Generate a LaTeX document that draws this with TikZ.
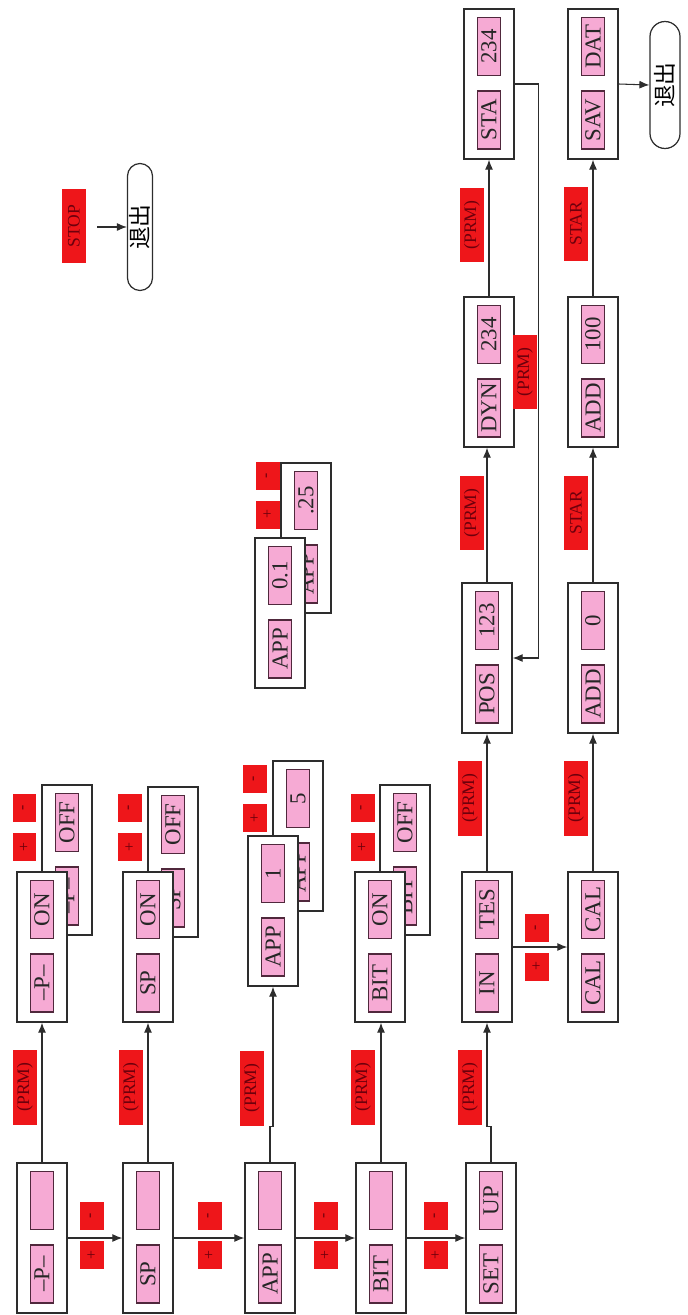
\documentclass[tikz,border=0pt]{standalone}
\usepackage{fontspec}
\setmainfont{Liberation Serif}
\newfontfamily\cjkfont{Noto Sans CJK SC}
\usepackage{graphicx}
\usepackage{tikz}
\usetikzlibrary{arrows.meta}
\definecolor{key_red}{RGB}{238,22,26}
\definecolor{key_text}{RGB}{110,0,12}
\definecolor{lcd_pink}{RGB}{246,170,212}
\definecolor{lcd_edge}{RGB}{80,40,60}
\definecolor{wire}{RGB}{45,45,45}

\begin{document}
\begin{tikzpicture}[x=0.02cm, y=-0.02cm,
    panel/.style={draw=wire, line width=0.8pt, fill=white, minimum width=1cm, minimum height=3cm, inner sep=0},
    lcd/.style={draw=lcd_edge, line width=0.6pt, fill=lcd_pink, rotate=90, minimum width=1.16cm, minimum height=0.47cm, inner sep=0, text=black!85, font=\fontsize{13}{13}\selectfont},
    keylabel/.style={fill=key_red, rotate=90, minimum width=1.5cm, minimum height=0.48cm, inner sep=0, text=key_text, font=\fontsize{10}{10}\selectfont},
    pmkey/.style={fill=key_red, rotate=90, minimum width=0.56cm, minimum height=0.48cm, inner sep=0, text=key_text, font=\fontsize{9}{9}\selectfont},
    exitpill/.style={draw=wire, line width=0.7pt, fill=white, minimum height=2.54cm, inner sep=0, font=\cjkfont\fontsize{13}{13}\selectfont},
    arr/.style={draw=wire, line width=0.6pt, -{Latex[length=2mm,width=1.6mm]}}
    ]
    \useasboundingbox (0,0) rectangle (688,1315);

    % panels seen behind
    \node[panel] (bA) at (67,860) {};
    \node[panel] (bB) at (173,862) {};
    \node[panel] (bC) at (298,836) {};
    \node[panel] (bD) at (405,860) {};
    \node[panel] (bM) at (306,538) {};
    \foreach \n/\lo/\hi in {bA/--P--/OFF, bB/SP/OFF, bC/APP/5, bD/BIT/OFF, bM/APP/.25} {
        \node[lcd] at ([yshift=-0.72cm]\n.center) {\lo};
        \node[lcd] at ([yshift=0.75cm]\n.center) {\hi};
    }

    % + and - keys
    \foreach \kx/\ky [count=\i] in {24.5/808, 130/808, 362.5/808, 255/779, 268/475.5, 537/927.5,
                                    92/1216, 209.5/1216, 325.5/1216, 436/1216} {
        \node[pmkey] (minus\i) at (\kx,\ky) {-};
        \node[pmkey] (plus\i) at (\kx,\ky+39) {+};
    }

    % front panels
    \node[panel] (pA) at (42,1238) {};
    \node[panel] (pB) at (148,1238) {};
    \node[panel] (pC) at (270,1238) {};
    \node[panel] (pD) at (381,1238) {};
    \node[panel] (pE) at (491,1238) {};
    \node[panel] (uA) at (42,947) {};
    \node[panel] (uB) at (148,947) {};
    \node[panel] (uC) at (273,911) {};
    \node[panel] (uD) at (380,947) {};
    \node[panel] (uM) at (280,613) {};
    \node[panel] (inE) at (487,947) {};
    \node[panel] (posE) at (487,658) {};
    \node[panel] (dynE) at (489,372) {};
    \node[panel] (staE) at (489,84) {};
    \node[panel] (calF) at (593,947) {};
    \node[panel] (addF) at (593,658) {};
    \node[panel] (hunF) at (593,372) {};
    \node[panel] (savF) at (593,84) {};
    \foreach \n/\lo/\hi in {pA/--P--/, pB/SP/, pC/APP/, pD/BIT/, pE/SET/UP,
                            uA/--P--/ON, uB/SP/ON, uC/APP/1, uD/BIT/ON, uM/APP/0.1,
                            inE/IN/TES, posE/POS/123, dynE/DYN/234, staE/STA/234,
                            calF/CAL/CAL, addF/ADD/0, hunF/ADD/100, savF/SAV/DAT} {
        \node[lcd] at ([yshift=-0.72cm]\n.center) {\lo};
        \node[lcd] at ([yshift=0.75cm]\n.center) {\hi};
    }

    % exits
    \node[exitpill, minimum width=0.5cm, rounded corners=0.25cm] (quit1) at (140,227) {\rotatebox{90}{退出}};
    \node[exitpill, minimum width=0.6cm, rounded corners=0.3cm] (quit2) at (665,85) {\rotatebox{90}{退出}};
    \coordinate (stopend) at (97,227);

    % connectors
    \draw[arr] (pA.east) -- (pB.west);
    \draw[arr] (pB.east) -- (pC.west);
    \draw[arr] (pC.east) -- (pD.west);
    \draw[arr] (pD.east) -- (pE.west);
    \draw[arr] (pA.north) -- (uA.south);
    \draw[arr] (pB.north) -- (uB.south);
    \draw[arr] (pC.north) -- ++(0,-36) -| (uC.south);
    \draw[arr] (pD.north) -- (pD.north |- uD.south);
    \draw[arr] (pE.north) -- ++(0,-36) -| (inE.south);
    \draw[arr] (inE.north) -- (posE.south);
    \draw[arr] (posE.north) -- (posE.north |- dynE.south);
    \draw[arr] (dynE.north) -- (staE.south);
    \draw[arr] (inE.east) -- (calF.west);
    \draw[arr] (calF.north) -- (addF.south);
    \draw[arr] (addF.north) -- (hunF.south);
    \draw[arr] (hunF.north) -- (savF.south);
    \draw[arr] (staE.east) -- ++(24,0) |- (posE.east);
    \draw[arr] (savF.east) -- (quit2.west);
    \draw[arr] (stopend) -- (quit1.west);

    % key labels
    \foreach \lx/\ly [count=\i] in {25/1087, 131/1087, 252/1088, 363/1087, 470/1087,
                                    470/798, 472/513, 472/225, 576/798, 525/372} {
        \node[keylabel] (prm\i) at (\lx,\ly) {(PRM)};
    }
    \node[keylabel] (star1) at (576,513) {STAR};
    \node[keylabel] (star2) at (576,224) {STAR};
    \node[keylabel] (stop) at (74,226) {STOP};
\end{tikzpicture}
\end{document}
